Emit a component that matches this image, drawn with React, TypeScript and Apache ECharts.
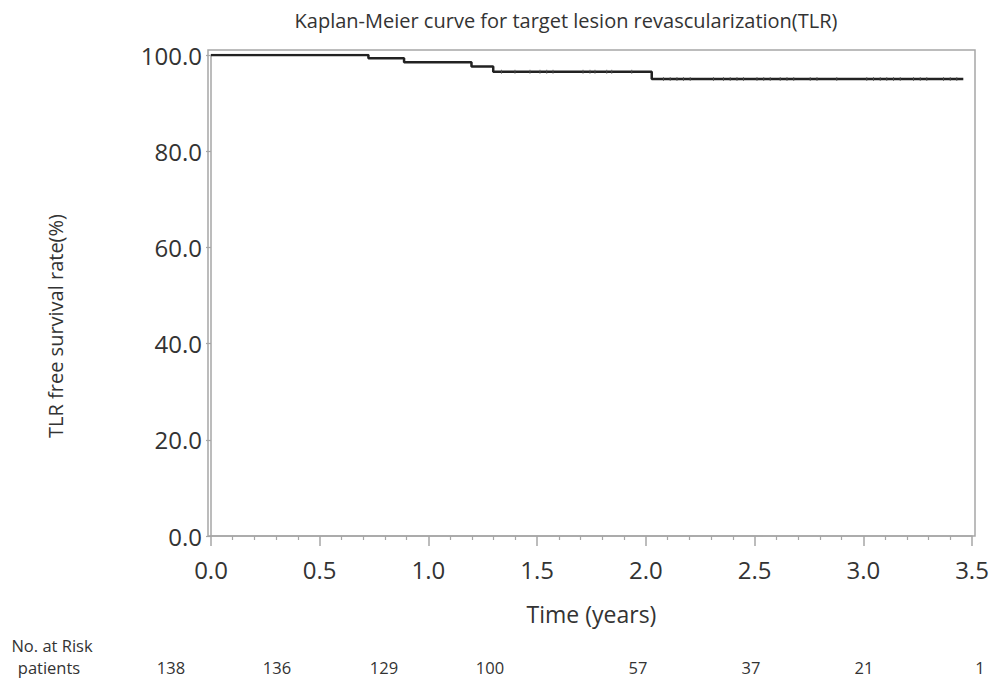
import React, { useEffect, useRef } from "react";
import * as echarts from "echarts";

// Kaplan-Meier step points: time (years) and TLR-free survival (%)
const stepTimes = [0, 0.724, 0.888, 1.198, 1.298, 2.027, 3.46];
const stepSurvival = [100, 99.3, 98.5, 97.6, 96.5, 95.0, 95.0];

// censored observations (time, years)
const censorTimes = [
  1.336, 1.398, 1.467, 1.513, 1.544, 1.573, 1.711, 1.743, 1.766, 1.82, 1.843, 1.935,
  2.081, 2.112, 2.143, 2.173, 2.204, 2.311, 2.357, 2.388, 2.419, 2.449, 2.511, 2.542,
  2.572, 2.618, 2.649, 2.68, 2.756, 2.787, 2.878, 3.016, 3.047, 3.078, 3.108, 3.139,
  3.17, 3.231, 3.262, 3.292, 3.369, 3.4, 3.43,
];

// number at risk table
const riskCounts = ["138", "136", "129", "100", "57", "37", "21", "1"];
const riskLabelPos = [171, 277, 384, 490, 638, 751, 864, 980];

const survivalAt = (t: number) => {
  let v = stepSurvival[0];
  for (let i = 0; i < stepTimes.length; i++) {
    if (stepTimes[i] <= t) v = stepSurvival[i];
  }
  return v;
};

const FONT = "'Open Sans', 'Noto Sans', sans-serif";
const TEXT = "#333333";
const AXIS = "#a6a6a6";

export default function App() {
  const ref = useRef<HTMLDivElement>(null);
  useEffect(() => {
    if (!ref.current) return;
    const chart = echarts.init(ref.current, null, { renderer: "svg" });
    const curve = stepTimes.map((t, i) => [t, stepSurvival[i]]);
    const censors = censorTimes.map((t) => [t, survivalAt(t)]);
    chart.setOption({
      animation: false,
      backgroundColor: "#ffffff",
      textStyle: { fontFamily: FONT },
      title: {
        text: "Kaplan-Meier curve for target lesion revascularization(TLR)",
        left: 561,
        top: 5,
        textAlign: "center",
        textStyle: { fontSize: 20, fontWeight: "normal", color: TEXT, fontFamily: FONT },
      },
      grid: { left: 211, right: 20, top: 55, bottom: 145, containLabel: false },
      xAxis: {
        type: "value",
        min: 0,
        max: 3.5,
        interval: 0.5,
        name: "Time (years)",
        nameLocation: "middle",
        nameGap: 66,
        nameTextStyle: { fontSize: 23, color: TEXT, fontFamily: FONT },
        axisLine: { show: true, onZero: false, lineStyle: { color: AXIS, width: 1.5 } },
        axisTick: { show: true, length: 10, lineStyle: { color: AXIS, width: 1.5 } },
        minorTick: { show: true, splitNumber: 5, length: 4, lineStyle: { color: AXIS, width: 1.2 } },
        splitLine: { show: false },
        axisLabel: {
          fontSize: 24,
          color: TEXT,
          margin: 21,
          fontFamily: FONT,
          formatter: (v: number) => v.toFixed(1),
        },
      },
      yAxis: {
        type: "value",
        min: 0,
        max: 100,
        interval: 20,
        offset: 3,
        axisLine: { show: true, lineStyle: { color: AXIS, width: 1.5 } },
        axisTick: { show: true, length: 5, lineStyle: { color: AXIS, width: 1.2 } },
        splitLine: { show: false },
        axisLabel: {
          fontSize: 24,
          color: TEXT,
          margin: 6,
          fontFamily: FONT,
          formatter: (v: number) => v.toFixed(1),
        },
      },
      series: [
        {
          type: "line",
          step: "end",
          data: curve,
          showSymbol: false,
          symbol: "none",
          lineStyle: { color: "#222222", width: 2.5 },
          z: 3,
        },
        {
          type: "scatter",
          data: censors,
          symbol: "rect",
          symbolSize: [1, 4],
          itemStyle: { color: "#555555" },
          z: 4,
        },
      ],
      graphic: [
        {
          type: "rect",
          shape: { x: 208, y: 50, width: 767, height: 486 },
          style: { fill: "none", stroke: AXIS, lineWidth: 1.5 },
          silent: true,
          z: 0,
        },
        {
          type: "text",
          x: 55,
          y: 326,
          rotation: Math.PI / 2,
          style: {
            text: "TLR free survival rate(%)",
            fontSize: 20,
            fill: TEXT,
            fontFamily: FONT,
            align: "center",
            verticalAlign: "middle",
          },
        },
        {
          type: "text",
          x: 52,
          y: 645,
          style: {
            text: "No. at Risk",
            fontSize: 16.5,
            lineHeight: 17,
            fill: TEXT,
            fontFamily: FONT,
            align: "center",
            verticalAlign: "middle",
          },
        },
        {
          type: "text",
          x: 49,
          y: 667,
          style: {
            text: "patients",
            fontSize: 16.5,
            lineHeight: 17,
            fill: TEXT,
            fontFamily: FONT,
            align: "center",
            verticalAlign: "middle",
          },
        },
        ...riskCounts.map((c, i) => ({
          type: "text",
          x: riskLabelPos[i],
          y: 667,
          style: {
            text: c,
            fontSize: 16.5,
            fill: TEXT,
            fontFamily: FONT,
            align: "center",
            verticalAlign: "middle",
          },
        })),
      ],
    });
    return () => chart.dispose();
  }, []);
  return (
    <div
      ref={ref}
      style={{ position: "absolute", left: 0, top: 0, width: 992, height: 681 }}
    />
  );
}
